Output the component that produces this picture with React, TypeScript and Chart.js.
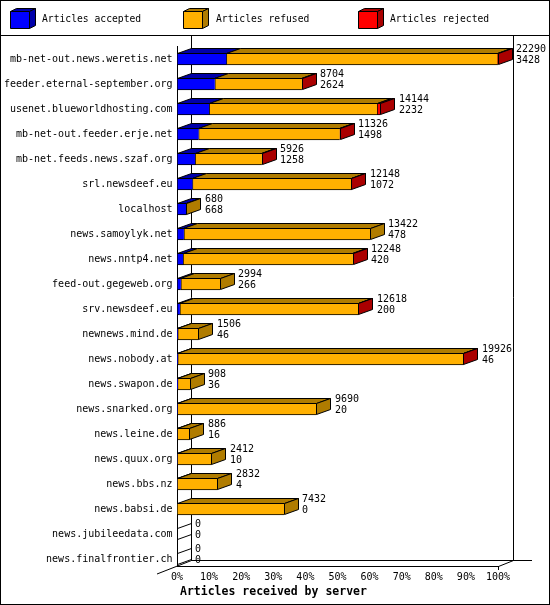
import { useEffect, useRef } from "react";
import { Chart, registerables } from "chart.js";

Chart.register(...registerables);

const servers = [
  "mb-net-out.news.weretis.net",
  "feeder.eternal-september.org",
  "usenet.blueworldhosting.com",
  "mb-net-out.feeder.erje.net",
  "mb-net.feeds.news.szaf.org",
  "srl.newsdeef.eu",
  "localhost",
  "news.samoylyk.net",
  "news.nntp4.net",
  "feed-out.gegeweb.org",
  "srv.newsdeef.eu",
  "newnews.mind.de",
  "news.nobody.at",
  "news.swapon.de",
  "news.snarked.org",
  "news.leine.de",
  "news.quux.org",
  "news.bbs.nz",
  "news.babsi.de",
  "news.jubileedata.com",
  "news.finalfrontier.ch",
];

const totals = [22290, 8704, 14144, 11326, 5926, 12148, 680, 13422, 12248, 2994, 12618, 1506, 19926, 908, 9690, 886, 2412, 2832, 7432, 0, 0];
const accepted = [3428, 2624, 2232, 1498, 1258, 1072, 668, 478, 420, 266, 200, 46, 46, 36, 20, 16, 10, 4, 0, 0, 0];
const refused = [18822, 6050, 11662, 9798, 4638, 11046, 12, 12944, 11798, 2728, 12388, 1460, 19850, 872, 9670, 870, 2402, 2828, 7432, 0, 0];
const rejected = [40, 30, 250, 30, 30, 30, 0, 0, 30, 0, 30, 0, 30, 0, 0, 0, 0, 0, 0, 0, 0];

const xTicks = [0, 10, 20, 30, 40, 50, 60, 70, 80, 90, 100];
const seriesNames = ["Articles accepted", "Articles refused", "Articles rejected"];
const frontColors = ["#0000FF", "#FFB000", "#FF0000"];
const darkColors = ["#0000AA", "#B07C00", "#AA0000"];
const axisTitle = "Articles received by server";

const maxTotal = Math.max(...totals);
const toPct = (arr: number[]) => arr.map((v) => (v / maxTotal) * 100);

const DX = 14;
const DY = 5;
const FONT = '10px "DejaVu Sans Mono", monospace';
const snap = (v: number) => Math.floor(v) + 0.5;

function poly(ctx: CanvasRenderingContext2D, pts: number[][], fill: string | null) {
  ctx.beginPath();
  ctx.moveTo(pts[0][0], pts[0][1]);
  for (let i = 1; i < pts.length; i++) ctx.lineTo(pts[i][0], pts[i][1]);
  ctx.closePath();
  if (fill) {
    ctx.fillStyle = fill;
    ctx.fill();
  }
  ctx.strokeStyle = "#000";
  ctx.lineWidth = 1;
  ctx.stroke();
}

const threeD = {
  id: "threeD",
  beforeDraw(chart: any) {
    const ctx = chart.ctx;
    ctx.save();
    ctx.fillStyle = "#fff";
    ctx.fillRect(0, 0, chart.width, chart.height);
    ctx.restore();
  },
  beforeDatasetsDraw(chart: any) {
    const { ctx, scales } = chart;
    const x = scales.x;
    const y = scales.y;
    const x0 = Math.round(x.getPixelForValue(0));
    const x1 = Math.round(x.getPixelForValue(100));
    const lastY = y.getPixelForValue(servers.length - 1);
    const floorF = Math.round(lastY + 7);
    const floorB = floorF - 6;
    ctx.save();
    ctx.strokeStyle = "#000";
    ctx.lineWidth = 1;
    ctx.beginPath();
    // back left wall
    ctx.moveTo(x0 + 14.5, 35);
    ctx.lineTo(x0 + 14.5, floorB + 0.5);
    // back right wall
    ctx.moveTo(x1 + 15.5, 35);
    ctx.lineTo(x1 + 15.5, floorB + 0.5);
    // back floor
    ctx.moveTo(x0 + 14, floorB + 0.5);
    ctx.lineTo(x1 + 34, floorB + 0.5);
    // front floor and right edge
    ctx.moveTo(x0, floorF + 0.5);
    ctx.lineTo(x1 + 0.5, floorF + 0.5);
    ctx.lineTo(x1 + 15.5, floorB + 0.5);
    // left floor edge
    ctx.moveTo(x0 - 20, floorF + 8);
    ctx.lineTo(x0 + 14.5, floorB + 0.5);
    // front left axis
    ctx.moveTo(x0 + 0.5, Math.round(chart.chartArea.top) - 1);
    ctx.lineTo(x0 + 0.5, floorF + 0.5);
    // tick at the end
    ctx.moveTo(x1 + 0.5, floorF);
    ctx.lineTo(x1 + 0.5, floorF + 4);
    ctx.stroke();
    ctx.restore();
  },
  afterDatasetsDraw(chart: any) {
    const { ctx, scales } = chart;
    const x0 = x0px(scales.x);
    const metas = [0, 1, 2].map((i) => chart.getDatasetMeta(i));
    ctx.save();
    for (let j = 0; j < servers.length; j++) {
      const el0 = metas[0].data[j];
      const top = Math.round(el0.y - el0.height / 2);
      const bottom = Math.round(el0.y + el0.height / 2);
      let lastIdx = -1;
      let endX = x0;
      for (let i = 0; i < 3; i++) {
        const el = metas[i].data[j];
        const xs = Math.min(el.base, el.x);
        const xe = Math.max(el.base, el.x);
        if (xe - xs > 0.01) {
          const a = snap(xs);
          const b = snap(xe);
          poly(
            ctx,
            [
              [a, top + 0.5],
              [b, top + 0.5],
              [b + DX, top - DY + 0.5],
              [a + DX, top - DY + 0.5],
            ],
            darkColors[i]
          );
          lastIdx = i;
          endX = xe;
        }
      }
      if (lastIdx >= 0) {
        const e = snap(endX);
        poly(
          ctx,
          [
            [e, top + 0.5],
            [e + DX, top - DY + 0.5],
            [e + DX, bottom - DY - 0.5],
            [e, bottom - 0.5],
          ],
          darkColors[lastIdx]
        );
      } else {
        const e = snap(x0);
        ctx.beginPath();
        ctx.moveTo(e, top + 0.5);
        ctx.lineTo(e + DX, top - DY + 0.5);
        ctx.moveTo(e, bottom - 0.5);
        ctx.lineTo(e + DX, bottom - DY - 0.5);
        ctx.strokeStyle = "#000";
        ctx.lineWidth = 1;
        ctx.stroke();
      }
      // value labels
      ctx.fillStyle = "#000";
      ctx.font = FONT;
      ctx.textAlign = "left";
      ctx.textBaseline = "middle";
      const lx = Math.round(endX) + DX + 4;
      ctx.fillText(String(totals[j]), lx, top - 4);
      ctx.fillText(String(accepted[j]), lx, top + 7.5);
    }
    ctx.restore();
  },
  afterDraw(chart: any) {
    const { ctx, scales } = chart;
    const x = scales.x;
    const y = scales.y;
    ctx.save();
    ctx.fillStyle = "#000";
    ctx.font = FONT;
    ctx.textBaseline = "middle";
    // category labels
    ctx.textAlign = "right";
    servers.forEach((s, i) => {
      ctx.fillText(s, 172.5, y.getPixelForValue(i));
    });
    // tick labels
    ctx.textAlign = "center";
    xTicks.forEach((t) => {
      ctx.fillText(t + "%", x.getPixelForValue(t), 577);
    });
    // axis title
    ctx.textAlign = "left";
    ctx.font = 'bold 11.5px "DejaVu Sans Mono", monospace';
    ctx.fillText(axisTitle, 180, 592);

    // legend
    const cubeX = [10, 183, 358];
    const textX = [42, 216, 390];
    for (let i = 0; i < 3; i++) {
      const cx = cubeX[i] + 0.5;
      const cy = 11.5;
      const w = 19;
      const h = 17;
      poly(ctx, [[cx, cy], [cx + w, cy], [cx + w + 6, cy - 3], [cx + 6, cy - 3]], darkColors[i]);
      poly(ctx, [[cx + w, cy], [cx + w + 6, cy - 3], [cx + w + 6, cy + h - 3], [cx + w, cy + h]], darkColors[i]);
      poly(ctx, [[cx, cy], [cx + w, cy], [cx + w, cy + h], [cx, cy + h]], frontColors[i]);
      ctx.fillStyle = "#000";
      ctx.font = '9.7px "DejaVu Sans Mono", monospace';
      ctx.textAlign = "left";
      ctx.textBaseline = "middle";
      ctx.fillText(seriesNames[i], textX[i], 19.5);
    }
    // legend separator & border
    ctx.strokeStyle = "#000";
    ctx.lineWidth = 1;
    ctx.beginPath();
    ctx.moveTo(0, 35.5);
    ctx.lineTo(chart.width, 35.5);
    ctx.stroke();
    ctx.strokeRect(0.5, 0.5, chart.width - 1, chart.height - 1);
    ctx.restore();
  },
};

function x0px(xScale: any) {
  return Math.round(xScale.getPixelForValue(0));
}

export default function App() {
  const ref = useRef<HTMLCanvasElement | null>(null);
  useEffect(() => {
    document.body.style.margin = "0";
    const canvas = ref.current;
    if (!canvas) return;
    const series = [accepted, refused, rejected];
    const chart = new Chart(canvas, {
      type: "bar",
      data: {
        labels: servers,
        datasets: series.map((arr, i) => ({
          label: seriesNames[i],
          data: toPct(arr),
          backgroundColor: frontColors[i],
          borderColor: "#000",
          borderWidth: { top: 1, bottom: 1, left: 1, right: 0 },
          borderSkipped: false,
          barThickness: 12,
        })),
      },
      options: {
        animation: false,
        responsive: false,
        indexAxis: "y",
        events: [],
        layout: { padding: { left: 177, right: 52, top: 46.5, bottom: 33.5 } },
        plugins: { legend: { display: false }, tooltip: { enabled: false } },
        scales: {
          x: { type: "linear", min: 0, max: 100, stacked: true, display: false },
          y: { type: "category", stacked: true, display: false, offset: true },
        },
      } as any,
      plugins: [threeD as any],
    });
    return () => chart.destroy();
  }, []);
  return (
    <canvas
      ref={ref}
      width={550}
      height={605}
      style={{ display: "block", width: "550px", height: "605px" }}
    />
  );
}
